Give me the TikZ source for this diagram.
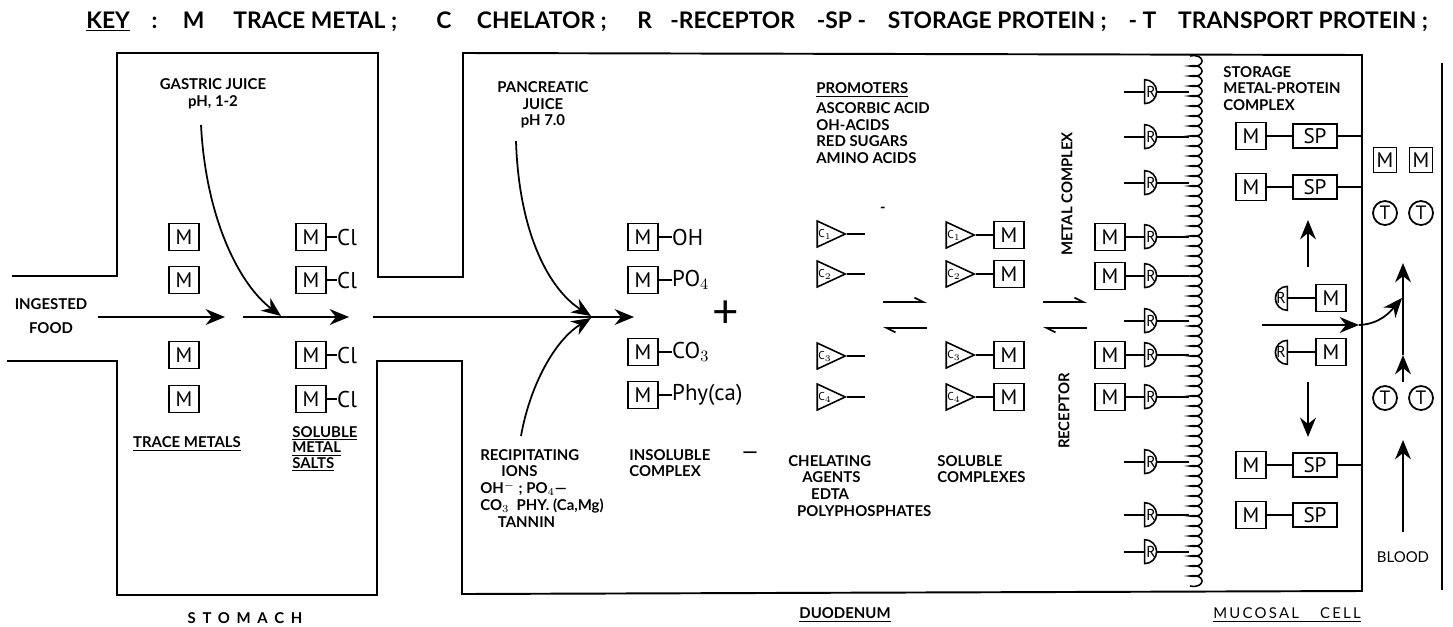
\documentclass[tikz,border=0pt]{standalone}
\usepackage{fontspec}
\setmainfont{Lato}
\newfontfamily\handfont{PT Sans}
\usetikzlibrary{arrows.meta,positioning,shapes.geometric}

\begin{document}
\begin{tikzpicture}[
    x=0.02cm, y=-0.02cm,
    wall/.style={line width=1.1pt},
    link/.style={line width=0.9pt},
    flow/.style={-{Stealth[length=11pt, width=9pt]}, line width=1pt},
    eqm/.style={-{Straight Barb[left, length=5pt, width=5pt]}, line width=1pt},
    villi/.style={line width=0.9pt},
    lbl/.style={font=\bfseries\fontsize{8.5}{9.5}\selectfont, align=center, inner sep=0pt},
    lbll/.style={lbl, align=left},
    keyword/.style={font=\bfseries\fontsize{13}{14}\selectfont, inner sep=0pt},
    hand/.style={font=\handfont\fontsize{13}{14}\selectfont, inner sep=0pt},
    mbox/.style={draw, line width=1pt, minimum width=0.6cm, minimum height=0.54cm,
                 inner sep=0pt, font=\handfont\fontsize{12}{12}\selectfont},
    spbox/.style={mbox, minimum width=0.88cm, minimum height=0.48cm},
    smallbox/.style={mbox, minimum width=0.46cm, minimum height=0.5cm},
    tcirc/.style={circle, draw, line width=1pt, minimum size=0.48cm, inner sep=0pt,
                  font=\handfont\fontsize{11}{11}\selectfont},
    chel/.style={isosceles triangle, isosceles triangle stretches, draw, line width=0.9pt,
                 minimum width=0.52cm, minimum height=0.56cm, inner sep=0pt,
                 font=\handfont\fontsize{6.5}{6.5}\selectfont},
    rcp/.style={minimum width=0.24cm, minimum height=0.48cm, inner sep=0pt,
                font=\handfont\fontsize{9}{9}\selectfont},
]
\useasboundingbox (0,0) rectangle (1453,626);

% key line
\node[keyword, anchor=base west] (k1) at (86,28) {\underline{KEY}};
\node[keyword, base right=12pt of k1] (k2) {:};
\node[keyword, base right=14pt of k2] (k3) {M};
\node[keyword, base right=16pt of k3] (k4) {TRACE METAL ;};
\node[keyword, base right=22pt of k4] (k5) {C};
\node[keyword, base right=14pt of k5] (k6) {CHELATOR ;};
\node[keyword, base right=17pt of k6] (k7) {R};
\node[keyword, base right=10pt of k7] (k8) {-RECEPTOR};
\node[keyword, base right=12pt of k8] (k9) {-SP -};
\node[keyword, base right=12pt of k9] (k10) {STORAGE PROTEIN ;};
\node[keyword, base right=12pt of k10] (k11) {- T};
\node[keyword, base right=12pt of k11] (k12) {TRANSPORT PROTEIN ;};

% gut outline
\draw[wall] (12,276) -- (117,276) -- (117,53) -- (378,53) -- (378,277) -- (463,277)
    -- (463,53) -- (1362,55) -- (1362,591) -- (462,594) -- (462,361) -- (377,361)
    -- (377,595) -- (117,595) -- (117,361) -- (7,361);
\draw[wall] (1442,63) -- (1442,590);
\draw[villi] (1190,56) \foreach \k in {1,...,53} { .. controls +(16,-3) and +(16,3) .. ++(0,10) };

% stomach
\node[lbl, font=\bfseries\fontsize{8.5}{13.6}\selectfont] (food) at (51,316) {INGESTED\\FOOD};
\node[lbl] (gastric) at (213,94) {GASTRIC JUICE\\pH, 1-2};
\foreach \i/\y in {1/237,2/280,3/355,4/399} {
  \node[mbox] (tm\i) at (184,\y) {M};
  \node[mbox] (sm\i) at (311,\y) {M};
  \node[hand, right=0.2cm of sm\i] (cl\i) {Cl};
  \draw[link] (sm\i) -- (cl\i);
}
\node[lbl] (tracem) at (187,444) {\underline{TRACE METALS}};
\node[lbll, anchor=west, font=\bfseries\fontsize{8.5}{8.8}\selectfont] (salts) at (292,449)
    {\underline{SOLUBLE}\\\underline{METAL}\\\underline{SALTS}};

\coordinate (f0) at (98,317);
\coordinate (f1) at (225,317);
\coordinate (f2) at (243,317);
\coordinate (f3) at (349,317);
\coordinate (f4) at (373,317);
\coordinate (f5) at (634,317);
\draw[flow] (f0) -- (f1);
\draw[flow] (f2) -- (f3);
\draw[flow] (f4) -- (f5);
\coordinate (gj0) at (201,125);
\coordinate (gj1) at (281,316);
\draw[flow] (gj0) .. controls (206,220) and (240,285) .. (gj1);

% duodenum
\node[lbl] (pancreas) at (543,105) {PANCREATIC\\JUICE\\pH 7.0};
\coordinate (pj0) at (516,141);
\coordinate (pj1) at (591,316);
\draw[flow] (pj0) .. controls (519,235) and (550,290) .. (pj1);
\coordinate (pi0) at (521,436);
\coordinate (pi1) at (591,318);
\draw[flow] (pi0) .. controls (530,385) and (555,340) .. (pi1);
\node[lbll, anchor=north west] (precip) at (480,449)
    {RECIPITATING\\\hspace*{12pt}IONS\\OH$^-$ ; PO$_4$---\\CO$_3$\ \ PHY. (Ca,Mg)\\\hspace*{10pt}TANNIN};

\node[mbox] (dm1) at (643,237) {M};
\node[mbox] (dm2) at (643,280) {M};
\node[mbox] (dm3) at (643,352) {M};
\node[mbox] (dm4) at (643,395) {M};
\node[hand, right=0.26cm of dm1] (oh) {OH};
\node[hand, right=0.26cm of dm2] (po) {PO$_4$};
\node[hand, right=0.26cm of dm3] (co) {CO$_3$};
\node[hand, right=0.26cm of dm4] (phy) {Phy(ca)};
\draw[link] (dm1) -- (oh);
\draw[link] (dm2) -- (po);
\draw[link] (dm3) -- (co);
\draw[link] (dm4) -- (phy);
\node[hand, font=\fontsize{26}{26}\selectfont] (plus) at (726,314) {+};
\node[lbll, anchor=north west] (insol) at (629,449) {INSOLUBLE\\COMPLEX};
\node[lbl, font=\bfseries\fontsize{11}{11}\selectfont] (minus) at (750,455) {—};

\node[lbll, anchor=north west] (promo) at (816,82)
    {\underline{PROMOTERS}\\[2pt]ASCORBIC ACID\\OH-ACIDS\\RED SUGARS\\AMINO ACIDS};
\node[lbl] (tick) at (883,210) {-};

\foreach \i/\y in {1/234,2/274,3/356,4/397} {
  \node[chel] (ca\i) at (825,\y) {C$_\i$};
  \coordinate (ce\i) at (865,\y);
  \draw[link] (ca\i.apex) -- (ce\i);
}
\foreach \i/\y in {1/235,2/274,3/355,4/397} {
  \node[chel] (cb\i) at (954,\y) {C$_\i$};
  \node[mbox] (bm\i) at (1009,\y) {M};
  \draw[link] (cb\i.apex) -- (bm\i);
}
\node[lbll, anchor=north west] (chelag) at (788,455)
    {CHELATING\\\hspace*{8pt}AGENTS\\\hspace*{13pt}EDTA\\\hspace*{5pt}POLYPHOSPHATES};
\node[lbll, anchor=north west] (solc) at (937,455) {SOLUBLE\\COMPLEXES};

% equilibria
\coordinate (ea1) at (883,302);
\coordinate (eb1) at (927,302);
\coordinate (ea2) at (883,328);
\coordinate (eb2) at (927,328);
\draw[eqm] (ea1) -- (eb1);
\draw[eqm] (eb2) -- (ea2);
\coordinate (ea3) at (1043,302);
\coordinate (eb3) at (1087,302);
\coordinate (ea4) at (1043,328);
\coordinate (eb4) at (1087,328);
\draw[eqm] (ea3) -- (eb3);
\draw[eqm] (eb4) -- (ea4);

\node[lbl, rotate=90] (metc) at (1067,194) {METAL COMPLEX};
\node[lbl, rotate=90] (recp) at (1064,411) {RECEPTOR};

% receptors on the brush border
\foreach \i/\y in {1/92,2/137,3/183,4/237,5/276,6/321,7/355,8/397,9/462,10/515,11/552} {
  \node[rcp] (r\i) at (1151,\y) {R};
  \coordinate (v\i) at (1189,\y);
  \draw[link] (r\i.east) -- (v\i);
  \draw[link] (r\i.south west) -- (r\i.north west) arc[start angle=90, end angle=-90, radius=0.24cm];
}
\foreach \i/\y in {1/92,2/137,3/183,6/321,9/462,10/515,11/552} {
  \coordinate (l\i) at (1124,\y);
  \draw[link] (l\i) -- (r\i.west);
}
\node[mbox] (rm1) at (1110,237) {M};
\node[mbox] (rm2) at (1110,276) {M};
\node[mbox] (rm3) at (1110,355) {M};
\node[mbox] (rm4) at (1110,397) {M};
\draw[link] (rm1) -- (r4.west);
\draw[link] (rm2) -- (r5.west);
\draw[link] (rm3) -- (r7.west);
\draw[link] (rm4) -- (r8.west);

% mucosal cell
\node[lbll, anchor=north west] (store) at (1223,66) {STORAGE\\METAL-PROTEIN\\COMPLEX};
\foreach \i/\y in {1/136,2/187,3/465,4/515} {
  \node[mbox] (st\i) at (1251,\y) {M};
  \node[spbox] (sp\i) at (1315,\y) {SP};
  \draw[link] (st\i) -- (sp\i);
}
\coordinate (w1) at (1362,136);
\coordinate (w2) at (1362,187);
\coordinate (w3) at (1362,465);
\draw[link] (sp1) -- (w1);
\draw[link] (sp2) -- (w2);
\draw[link] (sp3) -- (w3);
\foreach \i/\y in {1/298,2/352} {
  \node[rcp] (rr\i) at (1281,\y) {R};
  \node[mbox] (mm\i) at (1331,\y) {M};
  \draw[link] (rr\i.east) -- (mm\i);
  \draw[link] (rr\i.north east) -- (rr\i.south east) arc[start angle=-90, end angle=-270, radius=0.24cm];
}
\coordinate (up0) at (1308,267);
\coordinate (up1) at (1308,220);
\draw[flow] (up0) -- (up1);
\coordinate (dn0) at (1308,382);
\coordinate (dn1) at (1308,437);
\draw[flow] (dn0) -- (dn1);
\coordinate (h0) at (1262,325);
\coordinate (h1) at (1359,325);
\coordinate (h2) at (1402,298);
\draw[flow] (h0) -- (h1);
\draw[flow] (h1) .. controls (1380,324) and (1390,312) .. (h2);

% blood
\node[smallbox] (bl1) at (1385,160) {M};
\node[smallbox] (bl2) at (1421,160) {M};
\node[tcirc] (t1) at (1385,213) {T};
\node[tcirc] (t2) at (1421,213) {T};
\node[tcirc] (t3) at (1385,398) {T};
\node[tcirc] (t4) at (1421,398) {T};
\coordinate (b0) at (1403,532);
\coordinate (b1) at (1403,440);
\coordinate (b2) at (1403,382);
\coordinate (b3) at (1403,355);
\coordinate (b4) at (1403,263);
\draw[flow] (b0) -- (b1);
\draw[flow] (b2) -- (b3);
\draw[flow] (b3) -- (b4);
\node[lbl, font=\fontsize{8.5}{9.5}\selectfont] (blood) at (1403,557) {BLOOD};

% region names
\node[lbl, font=\bfseries\fontsize{8.5}{9.5}\selectfont\addfontfeature{LetterSpace=45}] (stom) at (245,618) {STOMACH};
\node[lbl] (duod) at (845,615) {\underline{DUODENUM}};
\node[lbl, font=\fontsize{8.5}{9.5}\selectfont\addfontfeature{LetterSpace=15}] (mucos) at (1287,615) {\underline{MUCOSAL\hspace{12pt}CELL}};

\end{tikzpicture}
\end{document}
